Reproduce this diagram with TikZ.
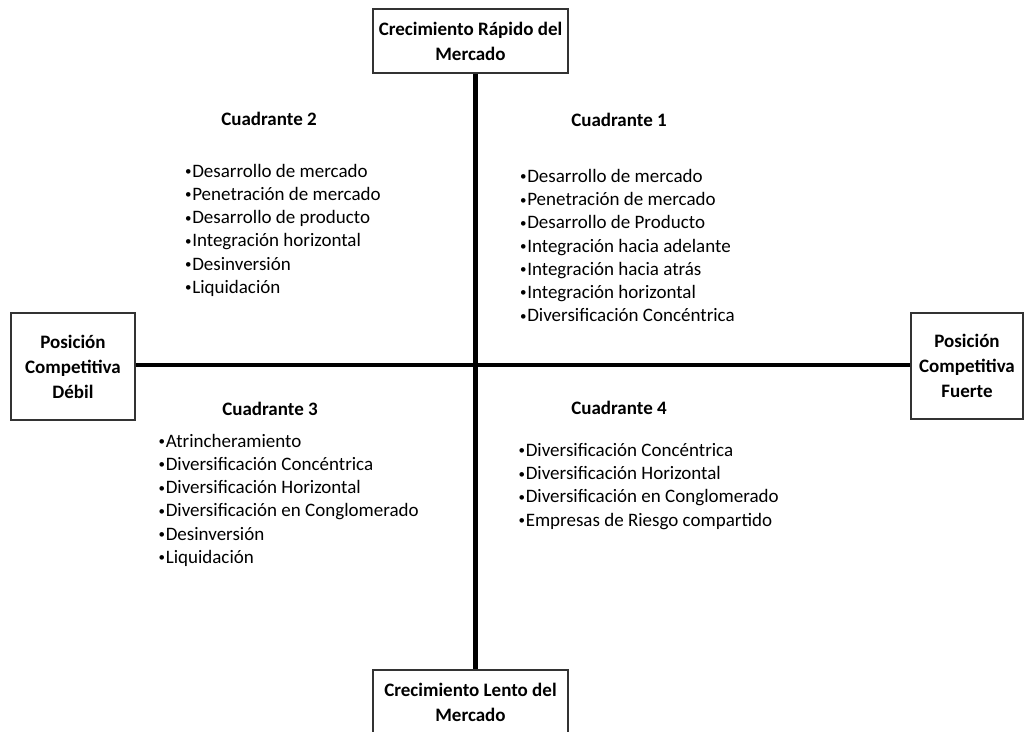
\documentclass[tikz,border=0pt]{standalone}
\usepackage{fontspec}
\setmainfont{Carlito}
% small list bullet, lifted back to mid x-height
\newcommand{\lbul}{\raisebox{1.6pt}{\fontsize{13}{13}\selectfont•}\hspace{0.6pt}}
\begin{document}
\begin{tikzpicture}[x=1pt,y=-1pt,
  axisbox/.style={draw=black!80, line width=1.5pt, fill=white, inner sep=0pt,
    align=center, font=\bfseries\fontsize{19}{25}\selectfont},
  axisline/.style={line width=4.5pt, black},
  qtitle/.style={anchor=base, inner sep=0pt, font=\bfseries\fontsize{19}{23}\selectfont},
  qlist/.style={anchor=base west, inner sep=0pt, align=left, font=\fontsize{19}{23.2}\selectfont}]
  \useasboundingbox (0,0) rectangle (1025,731);

  % crossing point of the two axes
  \coordinate (c) at (475.5,365);

  % axis end boxes
  \node[axisbox, minimum width=195pt, minimum height=64pt] (top) at (470.5,41)
    {Crecimiento Rápido del\\Mercado};
  \node[axisbox, minimum width=195pt, minimum height=64pt] (bottom) at (470.5,702)
    {Crecimiento Lento del\\Mercado};
  \node[axisbox, minimum width=124pt, minimum height=107pt] (left) at (73,366.5)
    {Posición\\Competitiva\\Débil};
  \node[axisbox, minimum width=112pt, minimum height=106pt] (right) at (967,366)
    {Posición\\Competitiva\\Fuerte};

  % axes
  \draw[axisline] (top.south -| c) -- (bottom.north -| c);
  \draw[axisline] (left.east |- c) -- (right.west |- c);

  % quadrant titles
  \node[qtitle] (q1t) at (619,126) {Cuadrante 1};
  \node[qtitle] (q2t) at (269,125) {Cuadrante 2};
  \node[qtitle] (q3t) at (270,415) {Cuadrante 3};
  \node[qtitle] (q4t) at (619,414) {Cuadrante 4};

  % strategy lists (placed by the baseline of their last line)
  \node[qlist] (q1l) at (520,321.7) {\lbul Desarrollo de mercado\\
    \lbul Penetración de mercado\\
    \lbul Desarrollo de Producto\\
    \lbul Integración hacia adelante\\
    \lbul Integración hacia atrás\\
    \lbul Integración horizontal\\
    \lbul Diversificación Concéntrica};
  \node[qlist] (q2l) at (185,293.3) {\lbul Desarrollo de mercado\\
    \lbul Penetración de mercado\\
    \lbul Desarrollo de producto\\
    \lbul Integración horizontal\\
    \lbul Desinversión\\
    \lbul Liquidación};
  \node[qlist] (q3l) at (158.5,563.3) {\lbul Atrincheramiento\\
    \lbul Diversificación Concéntrica\\
    \lbul Diversificación Horizontal\\
    \lbul Diversificación en Conglomerado\\
    \lbul Desinversión\\
    \lbul Liquidación};
  \node[qlist] (q4l) at (518.5,526) {\lbul Diversificación Concéntrica\\
    \lbul Diversificación Horizontal\\
    \lbul Diversificación en Conglomerado\\
    \lbul Empresas de Riesgo compartido};
\end{tikzpicture}
\end{document}
